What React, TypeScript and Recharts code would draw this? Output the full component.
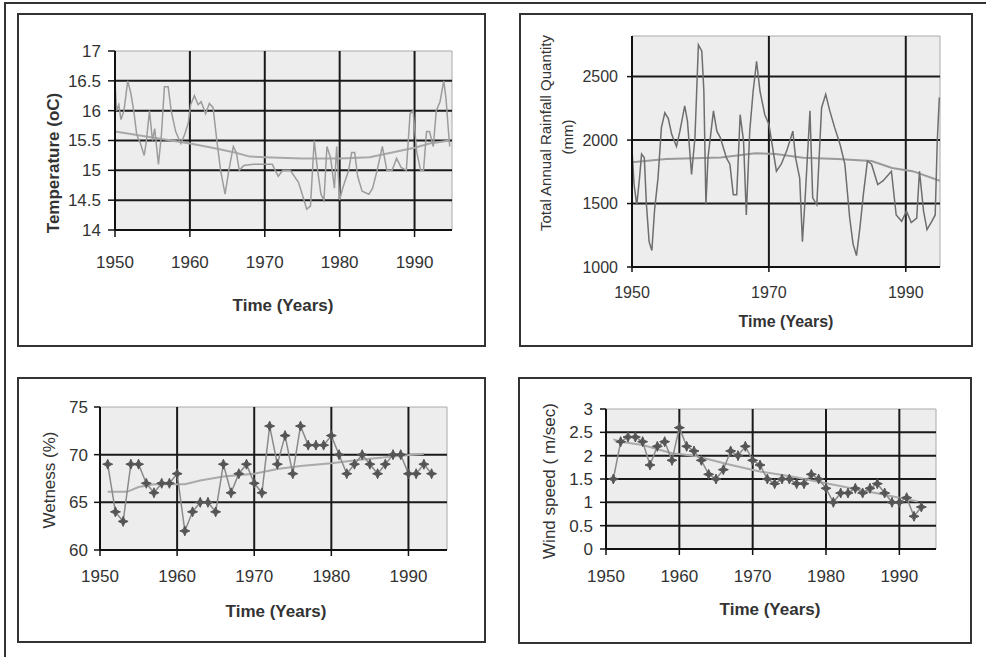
import React from "react";
import { ComposedChart, Line, XAxis, YAxis, CartesianGrid, ReferenceLine } from "recharts";

const FONT = "'Liberation Sans', Arial, sans-serif";

// Temperature (monthly-ish trace)
const tempYears = [
  1950.0, 1950.2, 1950.5, 1950.8, 1951.2, 1951.7, 1952.1, 1952.5, 1952.9, 1953.4, 1953.9, 1954.2, 1954.6,
  1955.0, 1955.3, 1955.8, 1956.2, 1956.6, 1957.1, 1957.5, 1958.1, 1958.8, 1959.3, 1959.8, 1960.1, 1960.6,
  1961.1, 1961.5, 1962.1, 1962.6, 1963.1, 1963.6, 1964.1, 1964.7, 1965.2, 1965.8, 1966.2, 1966.6, 1967.2,
  1968.5, 1970.0, 1971.0, 1971.8, 1972.4, 1973.4, 1974.5, 1975.0, 1975.6, 1976.1, 1976.6, 1977.0, 1977.5,
  1977.9, 1978.3, 1978.8, 1979.3, 1979.6, 1980.0, 1980.4, 1981.2, 1981.6, 1982.0, 1982.4, 1983.0, 1983.9,
  1984.4, 1985.0, 1985.7, 1986.3, 1987.0, 1987.6, 1988.2, 1988.9, 1989.4, 1989.8, 1990.3, 1990.8, 1991.2,
  1991.6, 1992.0, 1992.5, 1992.9, 1993.4, 1993.9, 1994.2, 1994.5, 1994.7,
];
const tempValues = [
  16.5, 16.0, 16.1, 15.85, 16.0, 16.5, 16.3, 16.0, 15.6, 15.45, 15.25, 15.5, 16.0,
  15.5, 15.7, 15.1, 15.6, 16.4, 16.4, 16.0, 15.65, 15.45, 15.6, 15.8, 16.1, 16.25,
  16.1, 16.15, 15.95, 16.12, 16.05, 15.5, 15.0, 14.6, 15.0, 15.4, 15.3, 15.0, 15.08,
  15.1, 15.1, 15.1, 14.9, 15.0, 15.0, 14.8, 14.6, 14.35, 14.4, 15.5, 15.05, 14.6,
  14.5, 15.4, 15.2, 14.7, 15.4, 14.5, 14.7, 15.0, 15.3, 15.3, 14.9, 14.65, 14.6,
  14.7, 15.0, 15.4, 15.0, 15.0, 15.2, 15.05, 15.0, 15.95, 16.0, 15.3, 15.0, 15.0,
  15.65, 15.65, 15.4, 16.0, 16.15, 16.5, 16.2, 15.7, 15.4,
];
const tempTrendYears = [1950, 1955, 1960, 1963, 1966, 1968, 1970, 1975, 1980, 1984, 1987, 1990, 1992, 1994.7];
const tempTrendValues = [15.65, 15.55, 15.45, 15.38, 15.3, 15.23, 15.22, 15.2, 15.2, 15.22, 15.3, 15.38, 15.45, 15.5];
const tempTicks = [14, 14.5, 15, 15.5, 16, 16.5, 17];
const tempGrid = [14.5, 15, 15.5, 16, 16.5];

// Rainfall
const rainYears = [
  1950.0, 1950.3, 1950.7, 1951.1, 1951.4, 1951.8, 1952.1, 1952.5, 1952.9, 1953.3, 1953.8, 1954.3, 1954.8,
  1955.3, 1955.8, 1956.5, 1957.0, 1957.7, 1958.1, 1958.7, 1959.2, 1959.7, 1960.2, 1960.5, 1960.8, 1961.1,
  1961.9, 1962.4, 1962.9, 1963.8, 1964.3, 1964.8, 1965.3, 1965.8, 1966.3, 1966.7, 1967.2, 1967.7, 1968.2,
  1968.7, 1969.4, 1970.0, 1970.4, 1971.1, 1971.8, 1972.6, 1973.5, 1973.9, 1974.5, 1974.9, 1975.3, 1976.0,
  1976.4, 1977.0, 1977.7, 1978.3, 1978.9, 1979.6, 1980.4, 1981.1, 1981.8, 1982.3, 1982.8, 1983.3, 1983.8,
  1984.4, 1985.0, 1985.9, 1986.7, 1987.9, 1988.6, 1989.4, 1990.1, 1990.8, 1991.6, 1992.0, 1992.6, 1993.1,
  1993.8, 1994.3, 1994.6, 1994.9,
];
const rainValues = [
  1930, 1650, 1490, 1700, 1890, 1860, 1500, 1200, 1130, 1450, 1700, 2100, 2215,
  2170, 2045, 1950, 2070, 2270, 2150, 1730, 2020, 2750, 2700, 2385, 1490, 1860,
  2230, 2070, 2020, 1860, 1810, 1570, 1570, 2200, 1990, 1410, 2070, 2385, 2620,
  2385, 2200, 2125, 1990, 1755, 1810, 1915, 2070, 1860, 1700, 1200, 1545, 2230,
  1545, 1490, 2255, 2360, 2230, 2100, 1965, 1810, 1390, 1180, 1090, 1310, 1570,
  1835, 1810, 1650, 1680, 1755, 1410, 1360, 1440, 1350, 1385, 1755, 1440, 1295,
  1360, 1410, 1990, 2335,
];
const rainTrendYears = [1950, 1955, 1963, 1968, 1971, 1975, 1980, 1985, 1988, 1991, 1995];
const rainTrendValues = [1825, 1850, 1863, 1897, 1890, 1860, 1850, 1835, 1780, 1755, 1680];
const rainTicks = [1000, 1500, 2000, 2500];
const rainGrid = [1500, 2000, 2500];

// Wetness (annual)
const wetYears = [
  1951, 1952, 1953, 1954, 1955, 1956, 1957, 1958, 1959, 1960, 1961, 1962, 1963, 1964, 1965,
  1966, 1967, 1968, 1969, 1970, 1971, 1972, 1973, 1974, 1975, 1976, 1977, 1978, 1979, 1980,
  1981, 1982, 1983, 1984, 1985, 1986, 1987, 1988, 1989, 1990, 1991, 1992, 1993,
];
const wetValues = [
  69, 64, 63, 69, 69, 67, 66, 67, 67, 68, 62, 64, 65, 65, 64,
  69, 66, 68, 69, 67, 66, 73, 69, 72, 68, 73, 71, 71, 71, 72,
  70, 68, 69, 70, 69, 68, 69, 70, 70, 68, 68, 69, 68,
];
const wetTrendYears = [1951, 1953.5, 1955, 1957, 1961, 1963, 1966, 1970, 1973, 1976, 1980, 1984, 1988, 1992];
const wetTrendValues = [66.1, 66.1, 66.6, 66.9, 66.9, 67.3, 67.7, 68.0, 68.5, 68.8, 69.1, 69.5, 69.8, 70.1];
const wetTicks = [60, 65, 70, 75];
const wetGrid = [65, 70];

// Wind speed (annual)
const windYears = wetYears;
const windValues = [
  1.5, 2.3, 2.4, 2.4, 2.3, 1.8, 2.2, 2.3, 1.9, 2.6, 2.2, 2.1, 1.9, 1.6, 1.5,
  1.7, 2.1, 2.0, 2.2, 1.9, 1.8, 1.5, 1.4, 1.5, 1.5, 1.4, 1.4, 1.6, 1.5, 1.3,
  1.0, 1.2, 1.2, 1.3, 1.2, 1.3, 1.4, 1.2, 1.0, 1.0, 1.1, 0.7, 0.9,
];
const windTrendYears = [1951, 1952, 1955, 1959, 1962, 1964.5, 1966.5, 1969, 1971, 1975.5, 1980, 1984.5, 1989, 1992.5];
const windTrendValues = [2.35, 2.3, 2.23, 2.05, 2.0, 1.9, 1.82, 1.73, 1.66, 1.55, 1.41, 1.27, 1.13, 1.02];
const windTicks = [0, 0.5, 1, 1.5, 2, 2.5, 3];
const windGrid = [0.5, 1, 1.5, 2, 2.5];

const decadeTicks = [1950, 1960, 1970, 1980, 1990];
const decadeGrid = [1960, 1970, 1980, 1990];
const rainYearTicks = [1950, 1970, 1990];
const rainYearGrid = [1970, 1990];

const zip = (xs: number[], ys: number[]) => xs.map((x, i) => ({ year: x, value: ys[i] }));

function Star(props: any) {
  const { cx, cy, index } = props;
  if (cx == null || cy == null) return null;
  const r = 5;
  const s = 1.5;
  const d = `M${cx},${cy - r} L${cx + s},${cy - s} L${cx + r},${cy} L${cx + s},${cy + s} L${cx},${cy + r} L${cx - s},${cy + s} L${cx - r},${cy} L${cx - s},${cy - s} Z`;
  return <path key={index} d={d} fill="#555" stroke="#555" strokeWidth={1} />;
}

// tick text drawn by hand so the font size sticks
function makeTick(size: number, vertical: boolean) {
  return (props: any) => {
    const { x, y, payload } = props;
    return (
      <text
        x={x}
        y={y}
        dy={vertical ? "0.35em" : "0.72em"}
        textAnchor={vertical ? "end" : "middle"}
        fontSize={size}
        fontFamily={FONT}
        fill="#333"
      >
        {payload.value}
      </text>
    );
  };
}

interface PanelProps {
  left: number;
  top: number;
  width: number;
  height: number;
  margin: { top: number; right: number; bottom: number; left: number };
  yWidth: number;
  xHeight: number;
  yDomain: [number, number];
  yTicks: number[];
  yGrid: number[];
  xTicks: number[];
  xGrid: number[];
  fontSize: number;
  xTickSize: number;
  xTickMargin: number;
  yTickSize: number;
  yTickMargin: number;
  data: { year: number; value: number }[];
  trend: { year: number; value: number }[];
  lineColor: string;
  trendColor: string;
  markers?: boolean;
}

function Panel(p: PanelProps) {
  return (
    <div style={{ position: "absolute", left: p.left, top: p.top, width: p.width, height: p.height }}>
      <ComposedChart width={p.width} height={p.height} margin={p.margin}>
        <CartesianGrid fill="#ededed" stroke="none" horizontal={false} vertical={false} />
        <XAxis
          dataKey="year"
          type="number"
          domain={[1950, 1995]}
          ticks={p.xTicks}
          allowDataOverflow
          height={p.xHeight}
          tick={makeTick(p.fontSize, false)}
          tickSize={p.xTickSize}
          tickMargin={p.xTickMargin}
          tickLine={{ stroke: "#111", strokeWidth: 1.5 }}
          axisLine={{ stroke: "#111", strokeWidth: 2 }}
        />
        <YAxis
          type="number"
          domain={p.yDomain}
          ticks={p.yTicks}
          allowDataOverflow
          width={p.yWidth}
          tick={makeTick(p.fontSize, true)}
          tickSize={p.yTickSize}
          tickMargin={p.yTickMargin}
          tickLine={{ stroke: "#111", strokeWidth: 1.5 }}
          axisLine={{ stroke: "#111", strokeWidth: 2 }}
        />
        <ReferenceLine y={p.yDomain[1]} stroke="#aaa" strokeWidth={1} />
        <ReferenceLine x={1995} stroke="#aaa" strokeWidth={1} />
        {p.yGrid.map((v) => (
          <ReferenceLine key={"y" + v} y={v} stroke="#1a1a1a" strokeWidth={2} />
        ))}
        {p.xGrid.map((v) => (
          <ReferenceLine key={"x" + v} x={v} stroke="#1a1a1a" strokeWidth={2} />
        ))}
        <Line
          data={p.trend}
          dataKey="value"
          stroke={p.trendColor}
          strokeWidth={2}
          dot={false}
          isAnimationActive={false}
        />
        <Line
          data={p.data}
          dataKey="value"
          stroke={p.lineColor}
          strokeWidth={1.5}
          dot={p.markers ? (props: any) => <Star {...props} /> : false}
          isAnimationActive={false}
        />
      </ComposedChart>
    </div>
  );
}

function Title({ x, y, text, bold, size, rotate }: { x: number; y: number; text: string; bold?: boolean; size: number; rotate?: boolean }) {
  return (
    <div
      style={{
        position: "absolute",
        left: x,
        top: y,
        transform: `translate(-50%, -50%)${rotate ? " rotate(-90deg)" : ""}`,
        whiteSpace: "nowrap",
        fontFamily: FONT,
        fontSize: size,
        fontWeight: bold ? "bold" : "normal",
        color: "#333",
        lineHeight: 1,
      }}
    >
      {text}
    </div>
  );
}

const boxStyle = (left: number, top: number, width: number, height: number): React.CSSProperties => ({
  position: "absolute",
  left,
  top,
  width,
  height,
  boxSizing: "border-box",
  border: "2px solid #333",
});

export default function App() {
  return (
    <div style={{ position: "absolute", left: 0, top: 0, width: 986, height: 657, background: "#fff", overflow: "hidden" }}>
      <div style={{ position: "absolute", left: 4, top: 2, width: 982, height: 655, borderTop: "2px solid #333", borderLeft: "2px solid #333" }} />

      <div style={boxStyle(17, 13, 469, 334)} />
      <div style={boxStyle(519, 13, 454, 334)} />
      <div style={boxStyle(17, 377, 469, 266)} />
      <div style={boxStyle(518, 377, 454, 267)} />

      <Panel
        left={17}
        top={13}
        width={469}
        height={334}
        margin={{ top: 38, right: 34, bottom: 77, left: 38 }}
        yWidth={60}
        xHeight={40}
        yDomain={[14, 17]}
        yTicks={tempTicks}
        yGrid={tempGrid}
        xTicks={decadeTicks}
        xGrid={decadeGrid}
        fontSize={17}
        xTickSize={7}
        xTickMargin={19}
        yTickSize={7}
        yTickMargin={7}
        data={zip(tempYears, tempValues)}
        trend={zip(tempTrendYears, tempTrendValues)}
        lineColor="#9c9c9c"
        trendColor="#a8a8a8"
      />
      <Title x={283} y={305} text="Time (Years)" bold size={17} />
      <Title x={53} y={163} text="Temperature (oC)" bold size={17} rotate />

      <Panel
        left={519}
        top={13}
        width={454}
        height={334}
        margin={{ top: 23, right: 33, bottom: 50, left: 53 }}
        yWidth={60}
        xHeight={30}
        yDomain={[1000, 2820]}
        yTicks={rainTicks}
        yGrid={rainGrid}
        xTicks={rainYearTicks}
        xGrid={rainYearGrid}
        fontSize={16}
        xTickSize={5}
        xTickMargin={14}
        yTickSize={5}
        yTickMargin={9}
        data={zip(rainYears, rainValues)}
        trend={zip(rainTrendYears, rainTrendValues)}
        lineColor="#6e6e6e"
        trendColor="#9a9a9a"
      />
      <Title x={786} y={322} text="Time (Years)" bold size={16} />
      <Title x={545} y={133} text="Total Annual Rainfall Quantity" size={15} rotate />
      <Title x={567} y={137} text="(mm)" size={15} rotate />

      <Panel
        left={17}
        top={377}
        width={469}
        height={266}
        margin={{ top: 30, right: 39, bottom: 63, left: 23 }}
        yWidth={60}
        xHeight={30}
        yDomain={[60, 75]}
        yTicks={wetTicks}
        yGrid={wetGrid}
        xTicks={decadeTicks}
        xGrid={decadeGrid}
        fontSize={17}
        xTickSize={6}
        xTickMargin={14}
        yTickSize={6}
        yTickMargin={6}
        data={zip(wetYears, wetValues)}
        trend={zip(wetTrendYears, wetTrendValues)}
        lineColor="#8a8a8a"
        trendColor="#aaaaaa"
        markers
      />
      <Title x={276} y={611} text="Time (Years)" bold size={17} />
      <Title x={49} y={480} text="Wetness (%)" size={17} rotate />

      <Panel
        left={518}
        top={377}
        width={454}
        height={267}
        margin={{ top: 32, right: 36, bottom: 65, left: 28 }}
        yWidth={60}
        xHeight={30}
        yDomain={[0, 3]}
        yTicks={windTicks}
        yGrid={windGrid}
        xTicks={decadeTicks}
        xGrid={decadeGrid}
        fontSize={17}
        xTickSize={6}
        xTickMargin={15}
        yTickSize={6}
        yTickMargin={7}
        data={zip(windYears, windValues)}
        trend={zip(windTrendYears, windTrendValues)}
        lineColor="#8a8a8a"
        trendColor="#aaaaaa"
        markers
      />
      <Title x={770} y={609} text="Time (Years)" bold size={17} />
      <Title x={549} y={481} text="Wind speed ( m/sec)" size={17} rotate />
    </div>
  );
}
